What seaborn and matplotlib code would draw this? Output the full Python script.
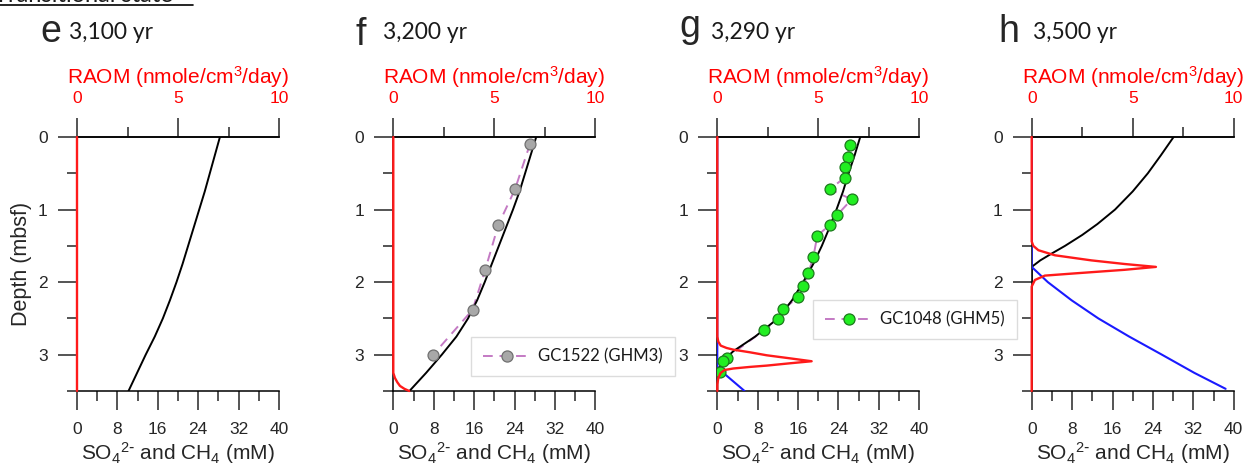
import seaborn as sns
import matplotlib.pyplot as plt
from matplotlib.lines import Line2D
from matplotlib.ticker import MultipleLocator

# panel e : 3,100 yr
e_so4_depth = [0, 0.25, 0.5, 0.75, 1.0, 1.25, 1.5, 1.75, 2.0, 2.25, 2.5, 2.75, 3.0, 3.25, 3.5]
e_so4 = [28.3, 27.3, 26.3, 25.3, 24.2, 23.1, 22.0, 20.9, 19.7, 18.4, 17.0, 15.4, 13.6, 11.9, 10.2]
e_raom_depth = [0, 3.5]
e_raom = [0, 0]

# panel f : 3,200 yr
f_so4_depth = [0, 0.25, 0.5, 0.75, 1.0, 1.25, 1.5, 1.75, 2.0, 2.25, 2.5, 2.75, 3.0, 3.25, 3.5]
f_so4 = [28.3, 27.2, 26.1, 25.0, 23.7, 22.3, 20.9, 19.5, 18.1, 16.6, 14.8, 12.5, 9.6, 6.5, 3.2]
f_raom_depth = [0, 3.25, 3.32, 3.38, 3.43, 3.47, 3.5]
f_raom = [0, 0, 0.08, 0.2, 0.33, 0.55, 0.79]
f_obs_depth = [0.09, 0.72, 1.21, 1.83, 2.38, 3.0]
f_obs = [27.1, 24.1, 20.8, 18.2, 15.7, 7.9]

# panel g : 3,290 yr
g_so4_depth = [0, 0.25, 0.5, 0.75, 1.0, 1.25, 1.5, 1.75, 2.0, 2.25, 2.5, 2.75, 2.95, 3.06, 3.17, 3.22, 3.5]
g_so4 = [28.3, 27.2, 26.0, 24.9, 23.6, 22.2, 20.7, 19.0, 17.0, 14.8, 12.0, 7.5, 3.2, 1.5, 0.4, 0, 0]
g_ch4_depth = [0, 3.18, 3.5]
g_ch4 = [0, 0, 5.4]
g_raom_depth = [0, 2.75, 2.82, 2.875, 2.907, 2.93, 2.967, 3.008, 3.05, 3.09,
                3.118, 3.15, 3.168, 3.19, 3.21, 3.25, 3.32, 3.41, 3.5]
g_raom = [0, 0, 0.05, 0.17, 0.46, 0.79, 1.62, 2.45, 3.6, 4.67,
          3.6, 2.45, 1.62, 0.79, 0.37, 0.17, 0.05, 0, 0]
g_obs_depth = [0.11, 0.27, 0.41, 0.56, 0.72, 0.86, 1.07, 1.21, 1.36, 1.66, 1.88,
               2.06, 2.21, 2.37, 2.51, 2.66, 3.04, 3.09, 3.24]
g_obs = [26.2, 25.8, 25.2, 25.2, 22.3, 26.6, 23.8, 22.3, 19.8, 19.0, 18.0,
         17.0, 16.0, 13.1, 12.0, 9.3, 1.9, 1.2, 0.5]

# panel h : 3,500 yr
h_so4_depth = [0, 0.25, 0.5, 0.75, 1.0, 1.2, 1.35, 1.5, 1.6, 1.7, 1.79, 3.5]
h_so4 = [28.1, 25.6, 23.0, 20.0, 16.5, 13.0, 10.0, 6.6, 4.1, 1.7, 0, 0]
h_ch4_depth = [0, 1.79, 2.0, 2.25, 2.5, 2.75, 3.0, 3.25, 3.47]
h_ch4 = [0, 0, 3.2, 7.9, 13.2, 19.3, 25.8, 32.2, 38.4]
h_raom_depth = [0, 1.44, 1.50, 1.56, 1.63, 1.70, 1.75, 1.79, 1.83, 1.88, 1.91, 1.97, 2.06, 3.5]
h_raom = [0, 0, 0.08, 0.33, 1.15, 2.95, 4.6, 6.15, 4.6, 2.1, 0.65, 0.16, 0, 0]

letters = ["e", "f", "g", "h"]
ages = ["3,100 yr", "3,200 yr", "3,290 yr", "3,500 yr"]
cores = ["GC1522 (GHM3)", "GC1048 (GHM5)"]

sns.set_style("ticks")
plt.rcParams["font.family"] = ["Liberation Sans", "DejaVu Sans"]
plt.rcParams["mathtext.default"] = "regular"

W, H = 1245, 466
fig = plt.figure(figsize=(W / 100, H / 100), dpi=100)

lefts = [77, 393.3, 717.3, 1031.7]
letter_x = [40, 355, 679, 998]
letter_base = [41.7, 45, 37.3, 41.7]
age_x = [69, 383, 711, 1033]

purple = "#c47ac4"


def make_axes(i):
    ax = fig.add_axes([lefts[i] / W, 1 - 391 / H, 202 / W, 254 / H])
    ax2 = ax.twiny()
    for s in ["top", "bottom", "left"]:
        ax.spines[s].set_visible(True)
        ax.spines[s].set_color("black")
        ax.spines[s].set_linewidth(1.1)
    ax.spines["right"].set_visible(False)
    for s in ["left", "right", "bottom"]:
        ax2.spines[s].set_visible(False)
    ax2.spines["top"].set_color("black")
    ax2.spines["top"].set_linewidth(1.1)
    fig.text(letter_x[i] / W, 1 - letter_base[i] / H, letters[i], fontsize=27,
             va="baseline", ha="left")
    fig.text(age_x[i] / W, 1 - 39.3 / H, ages[i], fontsize=16.5,
             family=["Lato", "DejaVu Sans"], va="baseline", ha="left", color="#1a1a1a")
    return ax, ax2


def finish(ax, ax2, first):
    ax.set_xlim(0, 40)
    ax.set_ylim(3.5, 0)
    ax2.set_xlim(0, 10)
    ax.xaxis.set_major_locator(MultipleLocator(8))
    ax.xaxis.set_minor_locator(MultipleLocator(4))
    ax.yaxis.set_major_locator(MultipleLocator(1))
    ax.yaxis.set_minor_locator(MultipleLocator(0.5))
    ax2.xaxis.set_major_locator(MultipleLocator(5))
    ax2.xaxis.set_minor_locator(MultipleLocator(2.5))
    ax.tick_params(axis="x", which="both", bottom=True, top=False, direction="out",
                   width=1.1, labelsize=12.5, pad=8)
    ax.tick_params(axis="y", which="both", left=True, right=False, direction="out",
                   width=1.1, labelsize=12.5, pad=7)
    ax.tick_params(which="major", length=14)
    ax.tick_params(which="minor", length=7.5)
    ax2.tick_params(axis="x", which="both", top=True, bottom=False, direction="out",
                    width=1.1, labelsize=12.5, pad=8, labelcolor="red")
    ax2.tick_params(which="major", length=14)
    ax2.tick_params(which="minor", length=7.5)
    ax2.tick_params(axis="y", left=False, right=False, labelleft=False, labelright=False)
    ax.set_xlabel(r"SO$_4$$^{2\text{-}}$ and CH$_4$ (mM)", fontsize=15, labelpad=2.5)
    ax2.set_xlabel("RAOM (nmole/cm$^3$/day)", fontsize=15, color="red", labelpad=5.5)
    if first:
        ax.set_ylabel("Depth (mbsf)", fontsize=15.5)
        ax.yaxis.set_label_coords(-0.225, 0.5)
    else:
        ax.set_ylabel("")
    ax2.set_ylabel("")


def model(ax, ax2, so4_d, so4, raom_d, raom, ch4_d=None, ch4=None):
    sns.lineplot(x=so4, y=so4_d, orient="y", sort=False, estimator=None, ax=ax,
                 color="black", linewidth=1.4, zorder=3)
    if ch4 is not None:
        sns.lineplot(x=ch4, y=ch4_d, orient="y", sort=False, estimator=None, ax=ax,
                     color="#1a1aff", linewidth=1.5, zorder=3)
    sns.lineplot(x=raom, y=raom_d, orient="y", sort=False, estimator=None, ax=ax2,
                 color="#ff1a1a", linewidth=1.7, zorder=5, clip_on=False)


def observed(ax, d, v, face, edge):
    sns.lineplot(x=v, y=d, orient="y", sort=False, estimator=None, ax=ax,
                 color=purple, linewidth=1.4, dashes=False, zorder=2,
                 linestyle=(0, (5, 3.5)))
    sns.scatterplot(x=v, y=d, ax=ax, color=face, edgecolor=edge, linewidth=0.9,
                    s=62, zorder=4)


# e
ax, ax2 = make_axes(0)
model(ax, ax2, e_so4_depth, e_so4, e_raom_depth, e_raom)
finish(ax, ax2, True)

# f
ax, ax2 = make_axes(1)
observed(ax, f_obs_depth, f_obs, "#a8a8a8", "#707070")
model(ax, ax2, f_so4_depth, f_so4, f_raom_depth, f_raom)
finish(ax, ax2, False)

# g
ax, ax2 = make_axes(2)
observed(ax, g_obs_depth, g_obs, "#22ee22", "#1c7a1c")
model(ax, ax2, g_so4_depth, g_so4, g_raom_depth, g_raom, g_ch4_depth, g_ch4)
finish(ax, ax2, False)

# h
ax, ax2 = make_axes(3)
model(ax, ax2, h_so4_depth, h_so4, h_raom_depth, h_raom, h_ch4_depth, h_ch4)
finish(ax, ax2, False)

# legends
leg_pos = [(471, 337), (813, 300)]
leg_face = [("#a8a8a8", "#707070"), ("#22ee22", "#1c7a1c")]
for k in range(2):
    h = Line2D([], [], color=purple, linewidth=1.4, linestyle=(0, (5, 3.5)),
               marker="o", markersize=8, markerfacecolor=leg_face[k][0],
               markeredgecolor=leg_face[k][1], markeredgewidth=0.9)
    lg = fig.legend([h], [cores[k]], loc="upper left",
                    bbox_to_anchor=(leg_pos[k][0] / W, 1 - leg_pos[k][1] / H),
                    borderaxespad=0, fancybox=False, frameon=True,
                    handlelength=2.9, handletextpad=0.45, borderpad=0.7,
                    prop={"family": ["Lato", "DejaVu Sans"], "size": 12})
    lg.get_frame().set_edgecolor("#d4d4d4")
    lg.get_frame().set_linewidth(1.0)
    for t in lg.get_texts():
        t.set_color("#1a1a1a")

# heading, cut off at the top edge as in the original figure
fig.text(-6 / W, 1 - 2 / H, "Transitional state", fontsize=17,
         family=["Lato", "DejaVu Sans"], va="baseline", ha="left", color="#1a1a1a")
fig.add_artist(Line2D([0, 193 / W], [1 - 5 / H, 1 - 5 / H], color="black", linewidth=1.2))

fig.savefig("out.png", dpi=100)
